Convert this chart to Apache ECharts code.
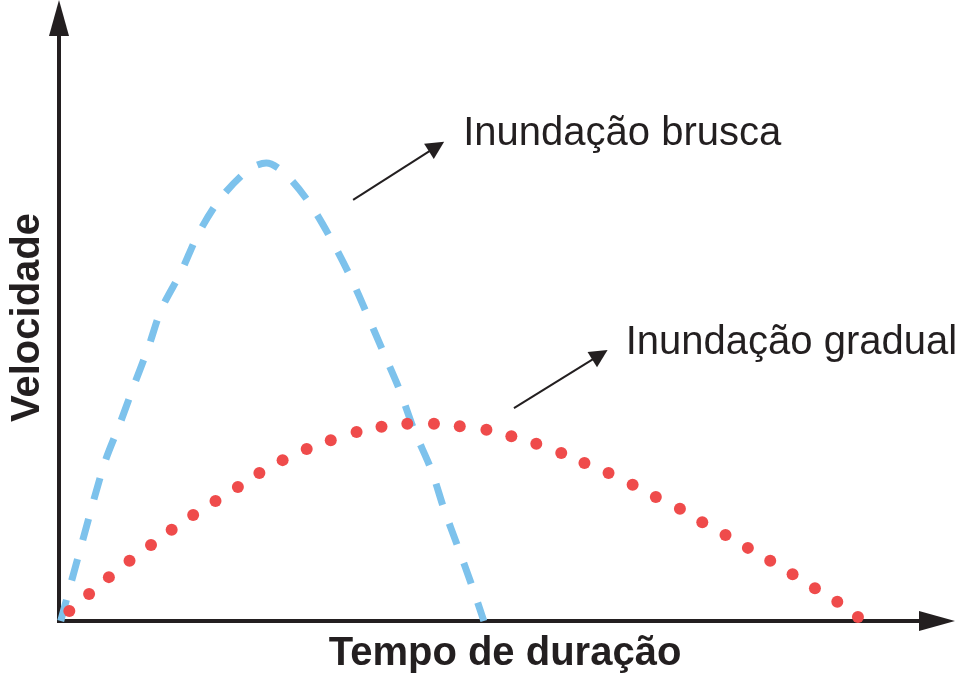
<!DOCTYPE html>
<html>
<head>
<meta charset="utf-8">
<script src="https://cdn.jsdelivr.net/npm/echarts@6.0.0/dist/echarts.min.js"></script>
<style>
html,body{margin:0;padding:0;background:#fff;}
#chart{width:959px;height:685px;}
</style>
</head>
<body>
<div id="chart"></div>
<script>
// Inundação brusca (dashed blue curve): tempo, velocidade
const bruscaTempo = [0.2, 2.7, 5.3, 7.1, 8.7, 10.4, 11.9, 14.2, 16.2, 18.7, 22.0, 24.1, 26.2, 29.1, 31.7, 33.9, 35.8, 37.7, 39.6, 41.3, 43.3, 44.8, 46.4, 47.9, 49.4];
const bruscaVel   = [0.0, 13.5, 27.0, 33.8, 40.2, 46.8, 53.3, 59.7, 66.2, 72.1, 77.1, 78.3, 76.6, 71.5, 65.1, 58.8, 52.5, 46.0, 39.5, 32.6, 25.8, 19.0, 12.6, 6.5, 0.0];

// Inundação gradual (dotted red curve): each dot
const gradualTempo = [1.2, 3.5, 5.8, 8.2, 10.7, 13.1, 15.6, 18.2, 20.8, 23.3, 26.0, 28.8, 31.6, 34.6, 37.5, 40.5, 43.6, 46.6, 49.7, 52.6, 55.5, 58.4, 61.1, 63.9, 66.7, 69.4, 72.2, 74.8, 77.5, 80.1, 82.7, 85.3, 87.9, 90.5, 92.9];
const gradualVel   = [1.7, 4.6, 7.5, 10.3, 13.0, 15.6, 18.1, 20.5, 22.9, 25.3, 27.5, 29.4, 30.9, 32.3, 33.2, 33.7, 33.7, 33.3, 32.7, 31.6, 30.3, 28.7, 27.0, 25.3, 23.3, 21.2, 19.2, 16.9, 14.7, 12.5, 10.3, 8.0, 5.6, 3.3, 0.7];

// Annotations (data coordinates)
const labelTexts = ['Inundação brusca', 'Inundação gradual'];
const labelTempo = [47.0, 65.9];
const labelVel   = [83.2, 47.5];
const arrowFrom  = [[34.2, 72.0], [52.9, 36.4]];
const arrowTo    = [[43.9, 81.1], [62.9, 45.5]];

const xAxisTitle = 'Tempo de duração';
const yAxisTitle = 'Velocidade';

const ink = '#231f20';
const chart = echarts.init(document.getElementById('chart'), null, {renderer: 'canvas'});

const axisCommon = {
  type: 'value', min: 0, max: 100,
  axisLine: {
    show: true, onZero: false,
    symbol: ['none', 'triangle'], symbolSize: [20, 36], symbolOffset: [0, 18],
    lineStyle: {color: ink, width: 4, cap: 'square'}
  },
  axisTick: {show: false}, axisLabel: {show: false}, splitLine: {show: false}
};

chart.setOption({
  animation: false,
  backgroundColor: '#fff',
  grid: {left: 57, right: 40, top: 36, bottom: 64, containLabel: false},
  xAxis: Object.assign({}, axisCommon, {
    name: xAxisTitle, nameLocation: 'middle', nameGap: 13,
    nameTextStyle: {fontFamily: 'Liberation Sans', fontWeight: 'bold', fontSize: 40, color: ink, padding: [0, 0, 0, 32]}
  }),
  yAxis: Object.assign({}, axisCommon, {
    name: yAxisTitle, nameLocation: 'middle', nameGap: 11, nameRotate: 90,
    nameTextStyle: {fontFamily: 'Liberation Sans', fontWeight: 'bold', fontSize: 40, color: ink, padding: [0, 0, 0, 22]}
  }),
  series: [
    {
      name: 'Inundação brusca', type: 'line', smooth: 0.3, symbol: 'none',
      data: bruscaTempo.map((t, i) => [t, bruscaVel[i]]),
      lineStyle: {color: '#7dc2ec', width: 7, type: [22, 20], cap: 'butt'},
      z: 3
    },
    {
      name: 'Inundação gradual', type: 'scatter', symbol: 'circle', symbolSize: 12,
      data: gradualTempo.map((t, i) => [t, gradualVel[i]]),
      itemStyle: {color: '#ef4b4b', opacity: 1},
      z: 4
    },
    {
      name: 'anotações', type: 'scatter', symbolSize: 0, silent: true,
      itemStyle: {opacity: 1},
      data: labelTexts.map((s, i) => ({name: s, value: [labelTempo[i], labelVel[i]]})),
      label: {
        show: true, position: 'right', distance: 0, formatter: '{b}',
        fontFamily: 'Liberation Sans', fontSize: 40, color: ink, opacity: 1
      },
      markLine: {
        silent: true, animation: false,
        symbol: ['none', 'triangle'], symbolSize: 18,
        lineStyle: {color: ink, width: 2, type: 'solid', opacity: 1},
        label: {show: false},
        data: arrowFrom.map((f, i) => [{coord: f}, {coord: arrowTo[i]}])
      },
      z: 5
    }
  ]
});
</script>
</body>
</html>
